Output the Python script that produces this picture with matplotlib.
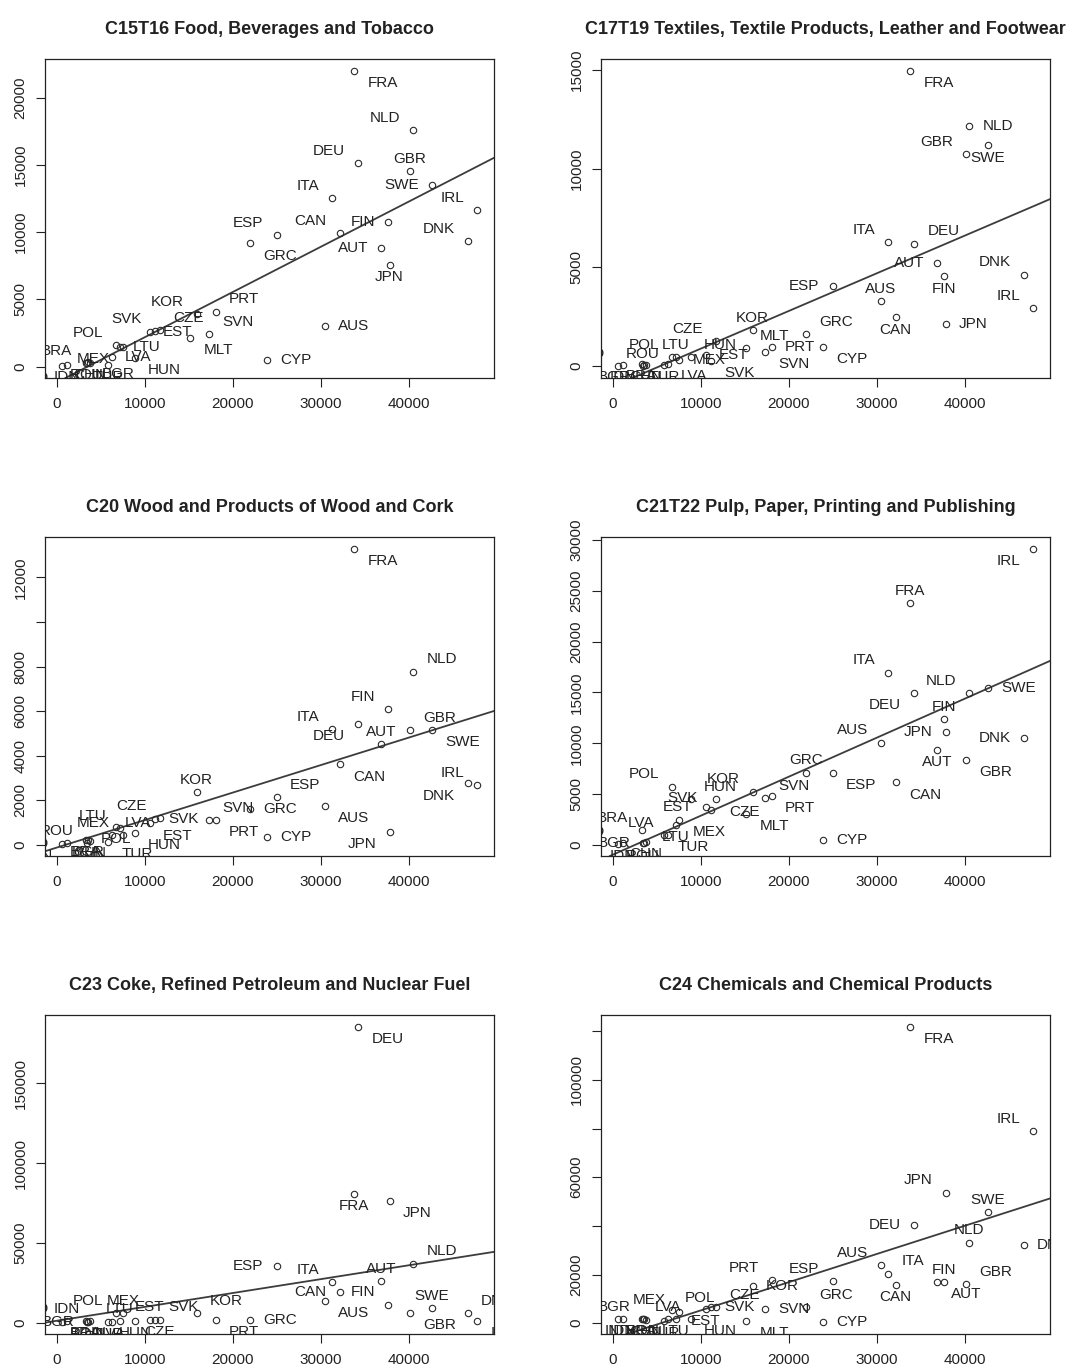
import numpy as np
import matplotlib
matplotlib.use('Agg')
import matplotlib.pyplot as plt
from matplotlib.transforms import ScaledTranslation

plt.rcParams['font.family'] = ['Liberation Sans', 'DejaVu Sans']

nan = np.nan

## countries and x value (same for every sector) ##
countries = ['FRA', 'NLD', 'DEU', 'GBR', 'SWE', 'ITA', 'IRL', 'FIN', 'CAN', 'DNK',
             'ESP', 'GRC', 'AUT', 'JPN', 'AUS', 'CYP', 'PRT', 'SVN', 'MLT', 'KOR',
             'CZE', 'EST', 'HUN', 'SVK', 'POL', 'LTU', 'LVA', 'MEX', 'TUR', 'BRA',
             'ROU', 'BGR', 'CHN', 'IDN', 'IND']
gdp = [33760, 40450, 34220, 40080, 42570, 31230, 47710, 37600, 32100, 46620,
       24950, 21970, 36820, 37750, 30430, 23820, 18070, 17320, 15160, 15880,
       11720, 10590, 8880, 11150, 6730, 7180, 6240, 7560, 5860, 3290,
       3400, 3590, 3780, 1130, 570]

## y values of each sector ##
food = [22005, 17570, 15120, 14570, 13480, 12560, 11650, 10730, 9940, 9340,
        9790, 9170, 8800, 7560, 3000, 500, 4090, 2430, 2160, 3915,
        2725, 2600, 620, 2650, 1610, 1487, 743, 1487, 124, 248,
        300, 372, 248, 124, 30]
textiles = [14950, 12160, 6200, 10740, 11180, 6280, 2950, 4550, 2475, 4630,
            4075, 1630, 5220, 2155, 3280, 960, 960, 720, 925, 1820,
            1263, 590, 455, 250, 455, 455, 118, 337, 50, 100,
            20, 80, 60, 85, 0]
wood = [13280, 7780, 5415, 5161, 5161, 5206, 2693, 6100, 3620, 2768,
        2140, 1600, 4533, 598, 1750, 374, 1122, 1122, nan, 2364,
        1197, 972, 553, 1150, 823, 748, 449, 449, 150, 224,
        105, 224, 180, 75, 40]
pulp = [23770, 14920, 14990, 8360, 15480, 16950, 29120, 12360, 6165, 10490,
        7115, 7115, 9345, 11150, 10070, 490, 4850, 4590, 3050, 5250,
        4490, 3770, 4490, 3440, 5740, 1967, 984, 2460, 984, 1475,
        164, 164, 300, 150, 80]
coke = [81050, 37180, 185500, 6270, 9400, 25490, 1045, 11490, 19430, 6270,
        35930, 2090, 26110, 76250, 13580, nan, 2090, nan, nan, 6270,
        1670, 2090, 1045, 2090, 6270, 1045, 418, 6270, 418, 1045,
        500, 700, 1200, 1045, 800]
chem = [121830, 33140, 40290, 16220, 45790, 20350, 79060, 16910, 15810, 32040,
        17190, 6600, 16910, 53630, 23790, 410, 17600, 5640, 1100, 15125,
        6600, 5910, 1790, 6600, 5225, 1790, 1790, 4540, 1000, 1790,
        1790, 1790, 1500, 1790, 1790]

## fitted lines (intercept, slope) ##
fit_food = (-1186, 0.3371)
fit_textiles = (-1023, 0.1911)
fit_wood = (-114, 0.1235)
fit_pulp = (-965, 0.3844)
fit_coke = (1295, 0.871)
fit_chem = (-6360, 1.162)

titles = ['C15T16 Food, Beverages and Tobacco',
          'C17T19 Textiles, Textile Products, Leather and Footwear',
          'C20 Wood and Products of Wood and Cork',
          'C21T22 Pulp, Paper, Printing and Publishing',
          'C23 Coke, Refined Petroleum and Nuclear Fuel',
          'C24 Chemicals and Chemical Products']

## where each label sits around its point ##
pos_food = dict(zip(countries, ['lr', 'ul', 'ul', 'u', 'l', 'ul', 'ul', 'l', 'ul', 'ul',
                                'ul', 'lr', 'l', 'd', 'r', 'r', 'ur', 'ur', 'lr', 'ul',
                                'ur', 'r', 'lr', 'ul', 'ul', 'r', 'r', 'll', 'd', 'ul',
                                'd', 'lr', 'd', 'd', 'll']))
pos_textiles = dict(zip(countries, ['lr', 'r', 'ur', 'ul', 'd', 'ul', 'ul', 'd', 'd', 'ul',
                                    'l', 'ur', 'l', 'r', 'u', 'lr', 'r', 'lr', 'ur', 'u',
                                    'ul', 'r', 'ur', 'lr', 'ul', 'u', 'lr', 'r', 'd', 'd',
                                    'u', 'll', 'd', 'd', 'ul']))
pos_wood = dict(zip(countries, ['lr', 'ur', 'll', 'ur', 'lr', 'ul', 'ul', 'ul', 'lr', 'll',
                                'ur', 'r', 'u', 'll', 'lr', 'r', 'lr', 'ur', 'r', 'u',
                                'ul', 'lr', 'lr', 'r', 'd', 'ul', 'ur', 'ul', 'lr', 'd',
                                'ul', 'd', 'd', 'll', 'l']))
pos_pulp = dict(zip(countries, ['u', 'ul', 'll', 'lr', 'r', 'ul', 'll', 'u', 'lr', 'l',
                                'lr', 'u', 'd', 'l', 'ul', 'r', 'lr', 'ur', 'lr', 'ul',
                                'lr', 'l', 'ur', 'ul', 'ul', 'd', 'ul', 'lr', 'lr', 'ul',
                                'd', 'l', 'd', 'd', 'ul']))
pos_coke = dict(zip(countries, ['d', 'ur', 'lr', 'lr', 'u', 'ul', 'lr', 'ul', 'l', 'ur',
                                'l', 'r', 'u', 'lr', 'lr', 'r', 'lr', 'r', 'r', 'ur',
                                'd', 'u', 'd', 'ur', 'ul', 'u', 'd', 'u', 'd', 'd',
                                'd', 'l', 'd', 'u', 'ul']))
pos_chem = dict(zip(countries, ['lr', 'u', 'l', 'ur', 'u', 'ur', 'ul', 'u', 'd', 'r',
                                'ul', 'ur', 'lr', 'ul', 'ul', 'r', 'ul', 'r', 'lr', 'r',
                                'ur', 'd', 'lr', 'r', 'ur', 'd', 'u', 'ul', 'd', 'd',
                                'd', 'ul', 'd', 'd', 'd']))

# offsets in points: (dx, dy, horizontal alignment)
OFFS = {'r': (9.5, 0, 'left'), 'l': (-9.5, 0, 'right'),
        'u': (0, 8.8, 'center'), 'd': (0, -8.8, 'center'),
        'ur': (9.5, 8.8, 'left'), 'ul': (-9.5, 8.8, 'right'),
        'lr': (9.5, -8.8, 'left'), 'll': (-9.5, -8.8, 'right')}

fig = plt.figure(figsize=(10.68, 13.66), dpi=100)

W, H = 1068.0, 1366.0
lefts = [45 / W, 601 / W]
bottoms = [1 - 378 / H, 1 - 856 / H, 1 - 1334 / H]
aw, ah = 449 / W, 319 / H


def painel(ax, yv, pos, fit, title, yticks, ylabels):
    x = np.array(gdp, dtype=float)
    y = np.array(yv, dtype=float)
    ok = ~np.isnan(y)
    ax.plot(x[ok], y[ok], 'o', ms=4.6, mfc='none', mec='#2a2a2a', mew=0.8, zorder=3)

    # R style limits: data range plus 4% each side
    x0, x1 = x[ok].min(), x[ok].max()
    y0, y1 = y[ok].min(), y[ok].max()
    ax.set_xlim(x0 - 0.04 * (x1 - x0), x1 + 0.04 * (x1 - x0))
    ax.set_ylim(y0 - 0.04 * (y1 - y0), y1 + 0.04 * (y1 - y0))

    ax.axline((0, fit[0]), slope=fit[1], color='#3c3c3c', lw=1.3, zorder=2)

    for name, xi, yi in zip(countries, x, y):
        if np.isnan(yi):
            continue
        dx, dy, ha = OFFS[pos[name]]
        tr = ax.transData + ScaledTranslation(dx / 72, dy / 72, fig.dpi_scale_trans)
        t = ax.text(xi, yi, name, transform=tr, ha=ha, va='center',
                    fontsize=11, color='#222222', clip_on=True)
        t.set_clip_box(ax.bbox)

    ax.set_xticks([0, 10000, 20000, 30000, 40000])
    ax.set_yticks(yticks)
    ax.set_yticklabels(ylabels)
    for lb in ax.get_yticklabels():
        lb.set_rotation(90)
        lb.set_va('center')
    ax.tick_params(axis='both', length=6.5, width=0.8, labelsize=11, colors='#222222')
    ax.tick_params(axis='x', pad=7)
    ax.tick_params(axis='y', pad=6)
    for s in ax.spines.values():
        s.set_linewidth(0.9)
        s.set_color('#222222')
    ax.set_title(title, fontsize=13, fontweight='bold', pad=18, color='#222222')


def labs(ticks, skip=()):
    return ['' if t in skip else str(t) for t in ticks]


series = [food, textiles, wood, pulp, coke, chem]
positions = [pos_food, pos_textiles, pos_wood, pos_pulp, pos_coke, pos_chem]
fits = [fit_food, fit_textiles, fit_wood, fit_pulp, fit_coke, fit_chem]
tick_sets = [list(range(0, 20001, 5000)), list(range(0, 15001, 5000)),
             list(range(0, 12001, 2000)), list(range(0, 30001, 5000)),
             list(range(0, 150001, 50000)), list(range(0, 120001, 20000))]
skips = [(), (), (10000,), (), (), (40000, 80000, 120000)]

for i in range(6):
    r, c = divmod(i, 2)
    ax = fig.add_axes([lefts[c], bottoms[r], aw, ah])
    painel(ax, series[i], positions[i], fits[i], titles[i],
           tick_sets[i], labs(tick_sets[i], skips[i]))

fig.savefig('out.png', dpi=100)
